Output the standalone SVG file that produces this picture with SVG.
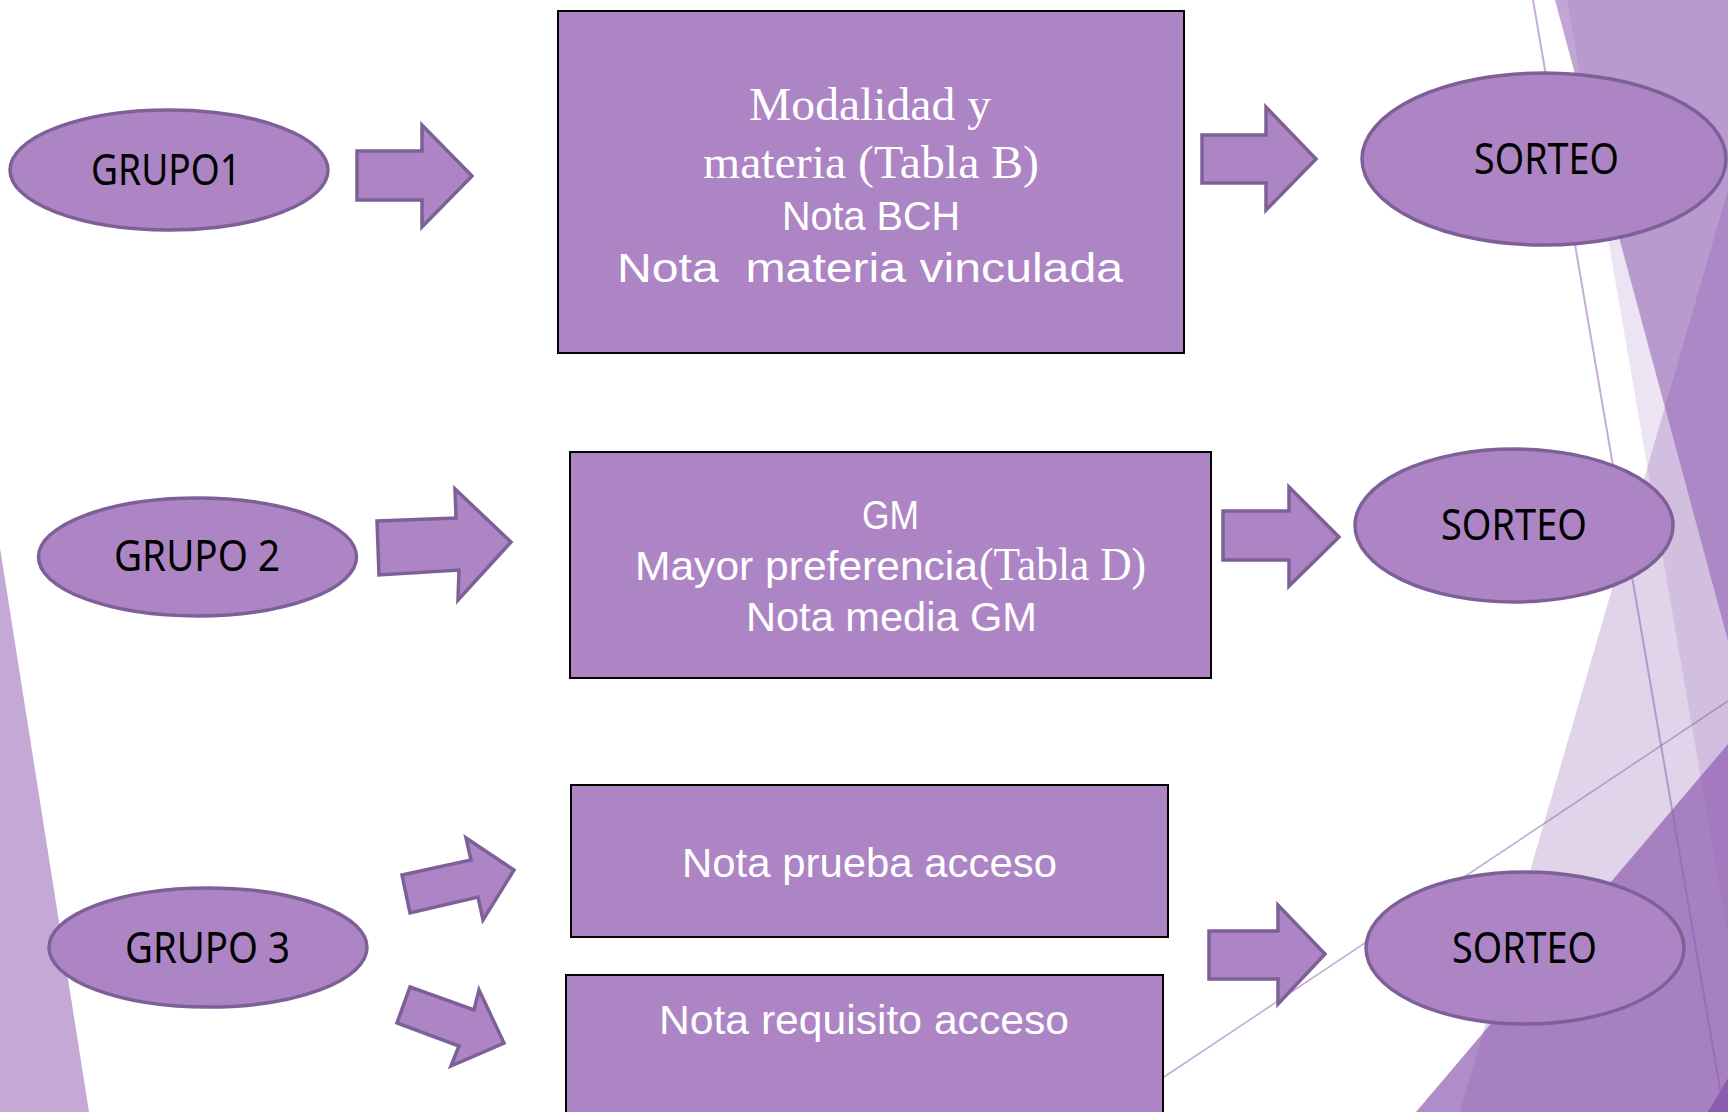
<svg xmlns="http://www.w3.org/2000/svg" width="1728" height="1112" viewBox="0 0 1728 1112">
<style>
.deco{fill:#8e5cb0}
.dline{stroke:#8e5cb0;stroke-opacity:0.5;fill:none}
.ell{fill:#ad85c5;stroke:#7e6098;stroke-width:3.5}
.box{fill:#ad85c5;stroke:#000;stroke-width:2}
.arr{fill:#ad85c5;stroke:#7e6098;stroke-width:3.5;stroke-linejoin:miter}
.lbl{font-family:"Noto Sans","Liberation Sans",sans-serif;font-size:43px;fill:#000}
.wt{font-family:"Liberation Sans",Arial,sans-serif;font-size:41px;fill:#fff}
.ws{font-family:"Liberation Serif","Times New Roman",serif;font-size:46px;fill:#fff}
</style>
<rect width="1728" height="1112" fill="#fff"/>
<g id="background">
<polygon points="0,548 89,1112 0,1112" fill="#c4a8d6"/>
<polygon class="deco" points="1567,0 1728,0 1728,936" fill-opacity="0.165"/>
<polygon class="deco" points="1555,0 1728,0 1728,641" fill-opacity="0.545"/>
<polygon class="deco" points="1728,190 1460,1112 1728,1112" fill-opacity="0.27"/>
<polygon class="deco" points="1416,1112 1728,744 1728,1112" fill-opacity="0.7"/>
<polygon class="deco" points="1708,1112 1728,1078 1728,1112"/>
<line class="dline" x1="1533" y1="0" x2="1724" y2="1112" stroke-width="2"/>
<line class="dline" x1="1164" y1="1077" x2="1728" y2="701" stroke-width="1.6"/>
</g>
<g id="connectors">
<polygon class="arr" points="357,151 422,151 422,125 472,176 422,227 422,200 357,200"/>
<polygon class="arr" points="1202,135 1266,135 1266,107 1316,159 1266,210 1266,183 1202,183"/>
<polygon class="arr" points="377,521 456,518 455,489 511,542 458,600 459,570 379,575"/>
<polygon class="arr" points="1223,511 1289,511 1289,487 1339,537 1289,586 1289,560 1223,560"/>
<polygon class="arr" points="402,875 471,860 466,838 514,870 483,920 478,897 410,913"/>
<polygon class="arr" points="410,987 474,1010 479,990 504,1043 451,1066 459,1046 397,1023"/>
<polygon class="arr" points="1209,931 1278,931 1278,905 1325,954 1278,1004 1278,979 1209,979"/>
</g>
<g id="grupo1">
<ellipse class="ell" cx="169" cy="170" rx="159" ry="60"/>
<text class="lbl" x="91" y="185" textLength="150" lengthAdjust="spacingAndGlyphs">GRUPO1</text>
</g>
<g id="grupo2">
<ellipse class="ell" cx="197.5" cy="557" rx="159" ry="59"/>
<text class="lbl" x="114" y="571" textLength="166" lengthAdjust="spacingAndGlyphs">GRUPO 2</text>
</g>
<g id="grupo3">
<ellipse class="ell" cx="208" cy="947.5" rx="159" ry="59.5"/>
<text class="lbl" x="125" y="963" textLength="165" lengthAdjust="spacingAndGlyphs">GRUPO 3</text>
</g>
<g id="box1">
<rect class="box" x="558" y="11" width="626" height="342"/>
<text class="ws" x="749" y="120" textLength="242" lengthAdjust="spacingAndGlyphs">Modalidad y</text>
<text class="ws" x="703" y="178" textLength="336" lengthAdjust="spacingAndGlyphs">materia (Tabla B)</text>
<text class="wt" x="782" y="230" textLength="178" lengthAdjust="spacingAndGlyphs">Nota BCH</text>
<text class="wt" x="617" y="282" textLength="506" lengthAdjust="spacingAndGlyphs" xml:space="preserve">Nota  materia vinculada</text>
</g>
<g id="box2">
<rect class="box" x="570" y="452" width="641" height="226"/>
<text class="wt" x="862" y="529" textLength="57" lengthAdjust="spacingAndGlyphs">GM</text>
<text class="wt" x="635" y="580"><tspan textLength="343" lengthAdjust="spacingAndGlyphs">Mayor preferencia</tspan><tspan class="ws" x="979" font-size="43" textLength="167" lengthAdjust="spacingAndGlyphs" style="font-family:'Liberation Serif','Times New Roman',serif">(Tabla D)</tspan></text>
<text class="wt" x="746" y="631" textLength="291" lengthAdjust="spacingAndGlyphs">Nota media GM</text>
</g>
<g id="box3a">
<rect class="box" x="571" y="785" width="597" height="152"/>
<text class="wt" x="682" y="877" textLength="375" lengthAdjust="spacingAndGlyphs">Nota prueba acceso</text>
</g>
<g id="box3b">
<rect class="box" x="566" y="975" width="597" height="150"/>
<text class="wt" x="659" y="1034" textLength="410" lengthAdjust="spacingAndGlyphs">Nota requisito acceso</text>
</g>
<g id="sorteo1">
<ellipse class="ell" cx="1544" cy="159" rx="182" ry="86"/>
<text class="lbl" x="1474" y="174" textLength="145" lengthAdjust="spacingAndGlyphs">SORTEO</text>
</g>
<g id="sorteo2">
<ellipse class="ell" cx="1514" cy="525.5" rx="159" ry="76.5"/>
<text class="lbl" x="1441" y="540" textLength="146" lengthAdjust="spacingAndGlyphs">SORTEO</text>
</g>
<g id="sorteo3">
<ellipse class="ell" cx="1525" cy="948" rx="159" ry="76"/>
<text class="lbl" x="1452" y="963" textLength="145" lengthAdjust="spacingAndGlyphs">SORTEO</text>
</g>
</svg>
